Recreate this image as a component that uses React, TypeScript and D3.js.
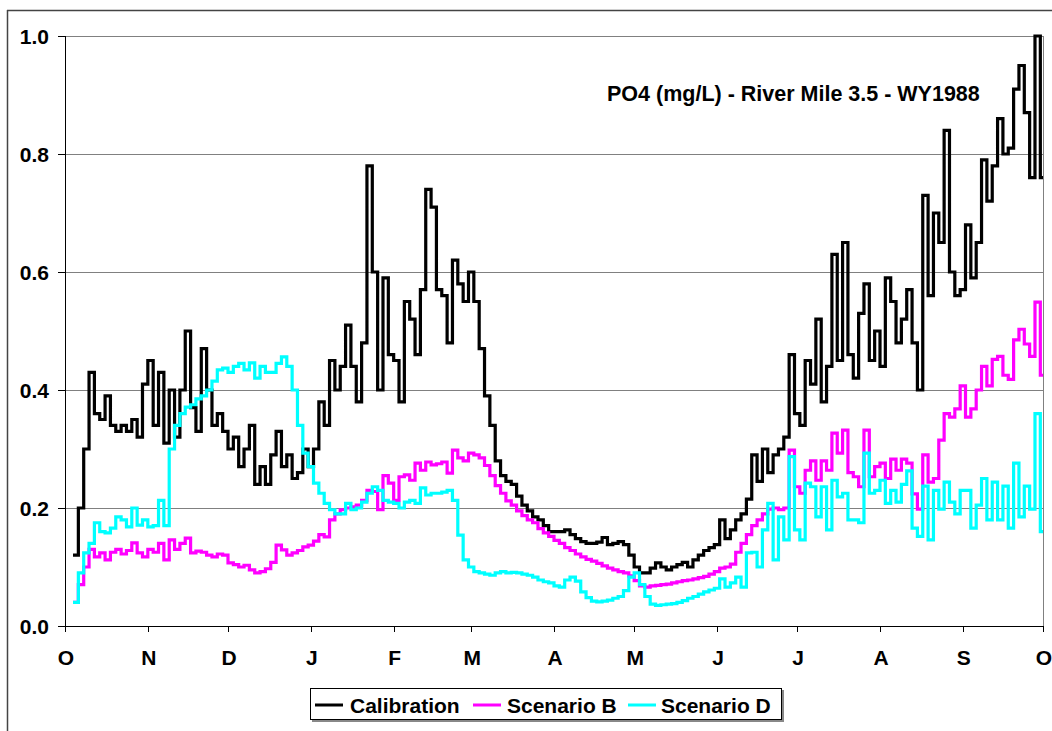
import React from "react";
import * as d3 from "d3";

// Series values, one value every STEP_DAYS days starting START_DAY days after 1 Oct 1987
const START_DAY = 3;
const STEP_DAYS = 2;

const calibration = [
  0.12, 0.20, 0.30, 0.43, 0.36, 0.35, 0.39, 0.34, 0.33, 0.34,
  0.33, 0.35, 0.32, 0.41, 0.45, 0.34, 0.43, 0.31, 0.40, 0.32,
  0.40, 0.50, 0.37, 0.33, 0.47, 0.40, 0.34, 0.36, 0.33, 0.30,
  0.32, 0.27, 0.30, 0.34, 0.24, 0.27, 0.24, 0.29, 0.33, 0.27,
  0.29, 0.25, 0.26, 0.30, 0.27, 0.30, 0.38, 0.34, 0.45, 0.40,
  0.44, 0.51, 0.44, 0.38, 0.48, 0.78, 0.60, 0.40, 0.59, 0.46,
  0.45, 0.38, 0.55, 0.52, 0.46, 0.57, 0.74, 0.71, 0.57, 0.56,
  0.48, 0.62, 0.58, 0.55, 0.60, 0.55, 0.47, 0.39, 0.34, 0.28,
  0.255, 0.245, 0.24, 0.22, 0.205, 0.195, 0.185, 0.18, 0.17, 0.16,
  0.16, 0.16, 0.163, 0.155, 0.148, 0.143, 0.14, 0.14, 0.142, 0.15,
  0.138, 0.14, 0.143, 0.138, 0.12, 0.10, 0.09, 0.09, 0.098, 0.107,
  0.10, 0.095, 0.10, 0.104, 0.108, 0.10, 0.112, 0.12, 0.128, 0.133,
  0.138, 0.18, 0.148, 0.163, 0.18, 0.19, 0.215, 0.29, 0.245, 0.30,
  0.26, 0.29, 0.30, 0.32, 0.46, 0.36, 0.34, 0.45, 0.41, 0.52,
  0.38, 0.44, 0.63, 0.45, 0.65, 0.46, 0.42, 0.53, 0.58, 0.45,
  0.50, 0.44, 0.59, 0.55, 0.48, 0.52, 0.57, 0.48, 0.40, 0.73,
  0.56, 0.70, 0.65, 0.84, 0.60, 0.56, 0.57, 0.68, 0.59, 0.65,
  0.79, 0.72, 0.78, 0.86, 0.80, 0.81, 0.91, 0.95, 0.87, 0.76,
  1.0, 0.76,
];

const scenarioB = [
  0.04, 0.07, 0.10, 0.13, 0.117, 0.124, 0.112, 0.125, 0.13, 0.122,
  0.128, 0.141, 0.124, 0.117, 0.13, 0.125, 0.14, 0.112, 0.146, 0.13,
  0.14, 0.149, 0.124, 0.127, 0.125, 0.12, 0.117, 0.122, 0.12, 0.107,
  0.104, 0.10, 0.103, 0.095, 0.09, 0.092, 0.097, 0.108, 0.137, 0.129,
  0.12, 0.124, 0.128, 0.134, 0.137, 0.144, 0.155, 0.151, 0.18, 0.19,
  0.197, 0.20, 0.202, 0.205, 0.213, 0.23, 0.228, 0.197, 0.255, 0.242,
  0.213, 0.253, 0.256, 0.247, 0.276, 0.264, 0.278, 0.273, 0.275, 0.278,
  0.259, 0.298, 0.285, 0.28, 0.293, 0.29, 0.285, 0.272, 0.255, 0.238,
  0.225, 0.212, 0.205, 0.195, 0.187, 0.18, 0.175, 0.165, 0.158, 0.152,
  0.145, 0.14, 0.133, 0.128, 0.122, 0.117, 0.113, 0.11, 0.106, 0.102,
  0.098, 0.095, 0.092, 0.09, 0.085, 0.077, 0.068, 0.066, 0.068, 0.069,
  0.07, 0.071, 0.073, 0.075, 0.077, 0.078, 0.08, 0.082, 0.084, 0.088,
  0.092, 0.098, 0.10, 0.105, 0.125, 0.14, 0.155, 0.17, 0.18, 0.19,
  0.198, 0.20, 0.197, 0.20, 0.298, 0.236, 0.225, 0.264, 0.28, 0.247,
  0.28, 0.264, 0.327, 0.293, 0.332, 0.26, 0.253, 0.236, 0.332, 0.253,
  0.27, 0.276, 0.25, 0.283, 0.264, 0.283, 0.276, 0.224, 0.198, 0.29,
  0.244, 0.25, 0.315, 0.36, 0.354, 0.368, 0.407, 0.354, 0.368, 0.40,
  0.44, 0.407, 0.452, 0.457, 0.425, 0.418, 0.485, 0.503, 0.478, 0.457,
  0.549, 0.425,
];

const scenarioD = [
  0.04, 0.09, 0.124, 0.14, 0.175, 0.16, 0.158, 0.166, 0.185, 0.18,
  0.168, 0.20, 0.171, 0.18, 0.168, 0.17, 0.213, 0.17, 0.30, 0.34,
  0.36, 0.371, 0.375, 0.385, 0.39, 0.40, 0.415, 0.434, 0.437, 0.43,
  0.44, 0.445, 0.434, 0.446, 0.42, 0.44, 0.43, 0.43, 0.445, 0.456,
  0.44, 0.40, 0.34, 0.293, 0.27, 0.242, 0.225, 0.208, 0.197, 0.19,
  0.19, 0.208, 0.197, 0.20, 0.21, 0.225, 0.236, 0.23, 0.213, 0.21,
  0.208, 0.20, 0.21, 0.213, 0.208, 0.234, 0.222, 0.225, 0.225, 0.227,
  0.23, 0.213, 0.154, 0.112, 0.10, 0.092, 0.09, 0.088, 0.086, 0.09,
  0.092, 0.09, 0.091, 0.09, 0.088, 0.086, 0.083, 0.078, 0.075, 0.073,
  0.068, 0.066, 0.078, 0.083, 0.076, 0.058, 0.048, 0.042, 0.041, 0.042,
  0.044, 0.047, 0.05, 0.06, 0.083, 0.09, 0.07, 0.05, 0.037, 0.035,
  0.036, 0.037, 0.038, 0.04, 0.043, 0.047, 0.05, 0.054, 0.058, 0.061,
  0.064, 0.08, 0.066, 0.073, 0.083, 0.066, 0.124, 0.125, 0.10, 0.163,
  0.208, 0.112, 0.185, 0.146, 0.287, 0.163, 0.146, 0.242, 0.236, 0.185,
  0.236, 0.163, 0.247, 0.219, 0.225, 0.18, 0.18, 0.175, 0.293, 0.225,
  0.23, 0.247, 0.208, 0.23, 0.21, 0.24, 0.263, 0.166, 0.152, 0.237,
  0.146, 0.23, 0.198, 0.244, 0.21, 0.19, 0.23, 0.23, 0.166, 0.205,
  0.25, 0.18, 0.244, 0.18, 0.237, 0.166, 0.276, 0.185, 0.237, 0.198,
  0.36, 0.16,
];

const MONTH_LABELS = ["O", "N", "D", "J", "F", "M", "A", "M", "J", "J", "A", "S", "O"];
const Y_TICKS = [0, 0.2, 0.4, 0.6, 0.8, 1.0];
const TITLE = "PO4 (mg/L) - River Mile 3.5 - WY1988";
const SERIES_NAMES = ["Calibration", "Scenario B", "Scenario D"];
const SERIES_COLORS = ["#000000", "#FF00FF", "#00FFFF"];

const W = 1052;
const H = 731;
const M = { left: 65, right: 1043, top: 36, bottom: 626 };
const FONT = "'Liberation Sans', Arial, sans-serif";

const startDate = new Date(1987, 9, 1);
const endDate = new Date(1988, 9, 1);

export default function App() {
  const x = d3.scaleTime().domain([startDate, endDate]).range([M.left, M.right]);
  const y = d3.scaleLinear().domain([0, 1]).range([M.bottom, M.top]);

  const toPoints = (vals: number[]) => {
    const pts: [Date, number][] = vals.map((v, i) => [
      d3.timeDay.offset(startDate, START_DAY + STEP_DAYS * i),
      v,
    ]);
    pts.push([endDate, vals[vals.length - 1]]);
    return pts;
  };

  const line = d3
    .line<[Date, number]>()
    .x((d) => x(d[0]))
    .y((d) => y(d[1]))
    .curve(d3.curveStepAfter);

  const seriesData = [calibration, scenarioB, scenarioD];
  const monthTicks = d3.timeMonth.range(startDate, new Date(1988, 9, 2));

  const legendItems = [
    { lx: 315, tx: 350 },
    { lx: 473, tx: 507 },
    { lx: 628, tx: 661 },
  ];

  return (
    <div style={{ position: "fixed", left: 0, top: 0 }}>
      <svg width={W} height={H} style={{ display: "block", background: "#fff" }}>
        {/* outer chart frame */}
        <line x1={7} x2={W} y1={10.5} y2={10.5} stroke="#444" strokeWidth={1.5} />
        <line x1={7.5} x2={7.5} y1={10} y2={H} stroke="#444" strokeWidth={1.5} />

        {/* gridlines */}
        {Y_TICKS.filter((t) => t > 0).map((t) => (
          <line
            key={"g" + t}
            x1={M.left}
            x2={M.right}
            y1={Math.round(y(t)) + 0.5}
            y2={Math.round(y(t)) + 0.5}
            stroke="#808080"
            strokeWidth={1}
          />
        ))}
        {/* right border */}
        <line x1={M.right + 0.5} x2={M.right + 0.5} y1={M.top} y2={M.bottom} stroke="#808080" strokeWidth={1} />

        {/* series */}
        {seriesData.map((vals, i) => (
          <path
            key={"s" + i}
            d={line(toPoints(vals)) || ""}
            fill="none"
            stroke={SERIES_COLORS[i]}
            strokeWidth={3.2}
            strokeLinejoin="miter"
          />
        ))}

        {/* axes */}
        <line x1={M.left + 0.5} x2={M.left + 0.5} y1={M.top} y2={M.bottom} stroke="#000" strokeWidth={1} />
        <line x1={M.left} x2={M.right + 1} y1={M.bottom + 0.5} y2={M.bottom + 0.5} stroke="#000" strokeWidth={1} />

        {Y_TICKS.map((t) => (
          <g key={"yt" + t}>
            <line
              x1={M.left - 7}
              x2={M.left}
              y1={Math.round(y(t)) + 0.5}
              y2={Math.round(y(t)) + 0.5}
              stroke="#000"
            />
            <text
              x={49}
              y={y(t) + 8}
              textAnchor="end"
              fontFamily={FONT}
              fontWeight="bold"
              fontSize={21}
              fill="#000"
            >
              {t.toFixed(1)}
            </text>
          </g>
        ))}

        {monthTicks.map((d, i) => (
          <g key={"xt" + i}>
            <line
              x1={Math.round(x(d)) + 0.5}
              x2={Math.round(x(d)) + 0.5}
              y1={M.bottom}
              y2={M.bottom + 6}
              stroke="#000"
            />
            <text
              x={x(d) + 1}
              y={665}
              textAnchor="middle"
              fontFamily={FONT}
              fontWeight="bold"
              fontSize={21}
              fill="#000"
            >
              {MONTH_LABELS[i]}
            </text>
          </g>
        ))}

        {/* title */}
        <text x={607} y={101} fontFamily={FONT} fontWeight="bold" fontSize={21.5} fill="#000">
          {TITLE}
        </text>

        {/* legend */}
        <rect x={312} y={690} width={472} height={32} fill="#888" />
        <rect x={310.5} y={688.5} width={471} height={31} fill="#fff" stroke="#000" strokeWidth={1} />
        {SERIES_NAMES.map((name, i) => (
          <g key={"l" + i}>
            <line
              x1={legendItems[i].lx}
              x2={legendItems[i].lx + 28}
              y1={705}
              y2={705}
              stroke={SERIES_COLORS[i]}
              strokeWidth={3}
            />
            <text
              x={legendItems[i].tx}
              y={713}
              fontFamily={FONT}
              fontWeight="bold"
              fontSize={21}
              fill="#000"
            >
              {name}
            </text>
          </g>
        ))}
      </svg>
    </div>
  );
}
